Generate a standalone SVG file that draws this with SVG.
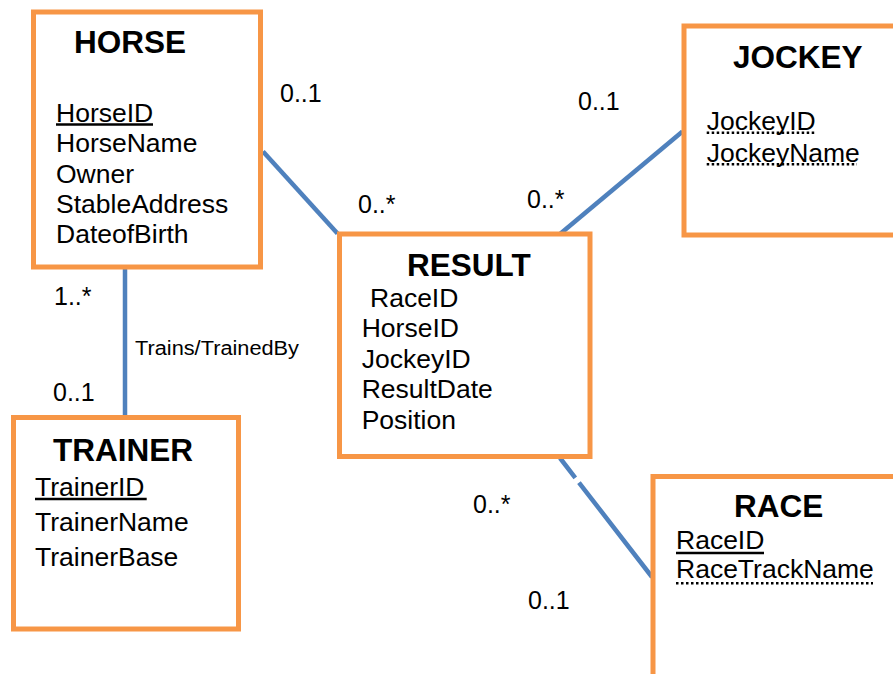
<svg xmlns="http://www.w3.org/2000/svg" width="893" height="674" viewBox="0 0 893 674">
<style>
.box{fill:#ffffff;stroke:#F79646;stroke-width:5}
.conn{stroke:#4F81BD;stroke-width:4.5;fill:none}
.title{font-family:"Liberation Sans",Arial,sans-serif;font-weight:bold;font-size:31.5px;fill:#000}
.attr{font-family:"Liberation Sans",Arial,sans-serif;font-size:26.5px;fill:#000}
.lbl{font-family:"Liberation Sans",Arial,sans-serif;font-size:25px;fill:#000}
.rel{font-family:"Liberation Sans",Arial,sans-serif;font-size:20px;fill:#000}
.ul{stroke:#000;stroke-width:2.5}
.dot{stroke:#000;stroke-width:2.5;stroke-dasharray:2.5 2.5}
</style>
<rect width="893" height="674" fill="#ffffff"/>
<g id="connectors">
<line class="conn" x1="263" y1="151.5" x2="337.5" y2="233.5"/>
<line class="conn" x1="560" y1="234" x2="682.5" y2="131.5"/>
<line class="conn" x1="125" y1="268" x2="125" y2="415"/>
<line class="conn" x1="560" y1="458" x2="652" y2="577" stroke-dasharray="25 6 200"/>
<text class="rel" x="135" y="355" textLength="164" lengthAdjust="spacingAndGlyphs">Trains/TrainedBy</text>
<text class="lbl" x="280" y="101.7">0..1</text>
<text class="lbl" x="358" y="213">0..*</text>
<text class="lbl" x="578" y="110">0..1</text>
<text class="lbl" x="527" y="208">0..*</text>
<text class="lbl" x="54" y="305">1..*</text>
<text class="lbl" x="53" y="401">0..1</text>
<text class="lbl" x="473" y="513">0..*</text>
<text class="lbl" x="528" y="609">0..1</text>
</g>
<g id="horse">
<rect class="box" x="33.5" y="12" width="227" height="255"/>
<text class="title" x="74" y="53">HORSE</text>
<text class="attr" x="56" y="121.7">HorseID</text>
<line class="ul" x1="56" y1="124.5" x2="153" y2="124.5"/>
<text class="attr" x="56" y="152.3">HorseName</text>
<text class="attr" x="56" y="182.7">Owner</text>
<text class="attr" x="56" y="212.7">StableAddress</text>
<text class="attr" x="56" y="243.3">DateofBirth</text>
</g>
<g id="jockey">
<rect class="box" x="684" y="26" width="230" height="209"/>
<text class="title" x="733" y="68">JOCKEY</text>
<text class="attr" x="706.7" y="130">JockeyID</text>
<line class="dot" x1="706.7" y1="132.7" x2="815.7" y2="132.7"/>
<text class="attr" x="706.7" y="161.5">JockeyName</text>
<line class="dot" x1="706.7" y1="164.3" x2="857" y2="164.3"/>
</g>
<g id="result">
<rect class="box" x="339.5" y="234" width="250.5" height="222.5"/>
<text class="title" x="407" y="276">RESULT</text>
<text class="attr" x="370" y="306.7">RaceID</text>
<text class="attr" x="361.7" y="337">HorseID</text>
<text class="attr" x="361.7" y="368">JockeyID</text>
<text class="attr" x="361.7" y="398">ResultDate</text>
<text class="attr" x="361.7" y="429">Position</text>
</g>
<g id="trainer">
<rect class="box" x="13.5" y="417.5" width="225" height="211.5"/>
<text class="title" x="53" y="460.7">TRAINER</text>
<text class="attr" x="35" y="496">TrainerID</text>
<line class="ul" x1="35" y1="499" x2="146.7" y2="499"/>
<text class="attr" x="35" y="531">TrainerName</text>
<text class="attr" x="35" y="565.7">TrainerBase</text>
</g>
<g id="race">
<rect class="box" x="653" y="476.5" width="260" height="230"/>
<text class="title" x="734" y="516.7">RACE</text>
<text class="attr" x="676" y="549">RaceID</text>
<line class="ul" x1="676" y1="553" x2="764" y2="553"/>
<text class="attr" x="676" y="578">RaceTrackName</text>
<line class="dot" x1="676" y1="583.3" x2="873" y2="583.3"/>
</g>
</svg>
